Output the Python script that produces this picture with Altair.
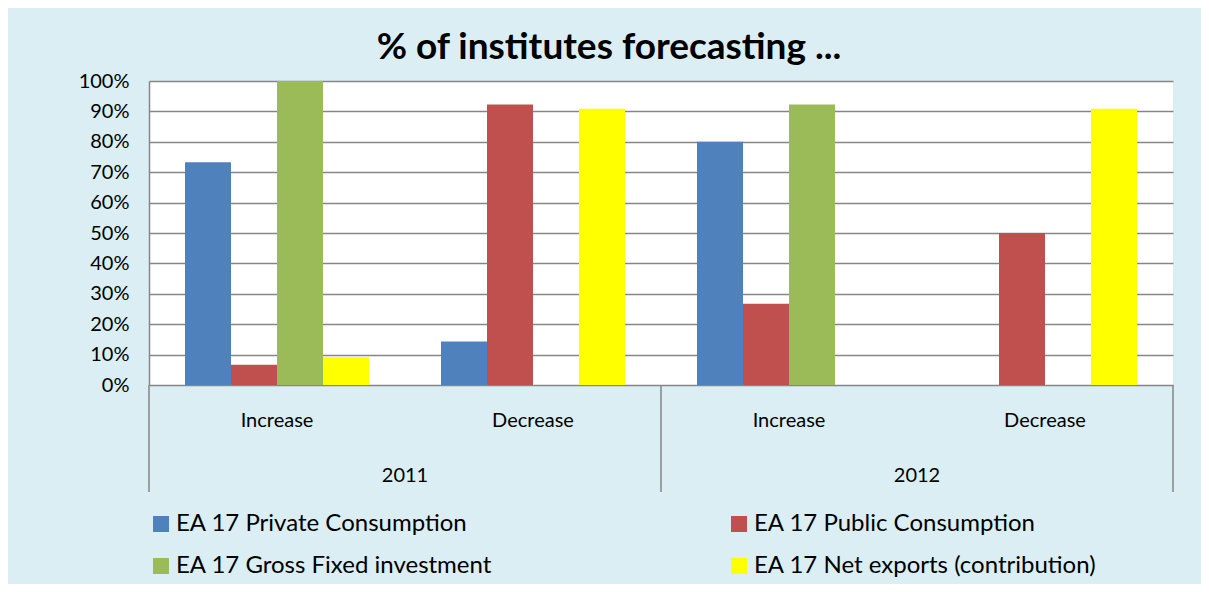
import altair as alt
import pandas as pd

# ---- data ----
series = ["EA 17 Private Consumption", "EA 17 Public Consumption",
          "EA 17 Gross Fixed investment", "EA 17 Net exports (contribution)"]
colors = ["#4F81BD", "#C0504D", "#9BBB59", "#FFFF00"]
years = ["2011", "2011", "2012", "2012"]
directions = ["Increase", "Decrease", "Increase", "Decrease"]
private_consumption = [0.733, 0.143, 0.800, 0.0]
public_consumption = [0.067, 0.923, 0.267, 0.500]
gross_fixed_investment = [1.000, 0.0, 0.923, 0.0]
net_exports = [0.091, 0.909, 0.0, 0.909]
y_ticks = [0.0, 0.1, 0.2, 0.3, 0.4, 0.5, 0.6, 0.7, 0.8, 0.9, 1.0]
year_labels = ["2011", "2012"]
# legend fills column by column: order so rows read Private|Public, Gross|Net
legend_order = [series[0], series[2], series[1], series[3]]

cats = [f"{y} {d}" for y, d in zip(years, directions)]
rows = []
for s, vals in zip(series, [private_consumption, public_consumption,
                            gross_fixed_investment, net_exports]):
    for c, yr, d, v in zip(cats, years, directions, vals):
        rows.append(dict(cat=c, year=yr, direction=d, series=s, value=v))
df = pd.DataFrame(rows)
df_cats = pd.DataFrame(dict(cat=cats, direction=directions))
df_years = pd.DataFrame(dict(year=year_labels))

W, H = 1024, 304
FONT = "Lato"
GRID = "#868686"

x_scale = alt.Scale(domain=cats, paddingInner=0.28125, paddingOuter=0.140625)

bars = alt.Chart(df).mark_bar().encode(
    x=alt.X("cat:N", scale=x_scale, axis=None, sort=cats),
    xOffset=alt.XOffset("series:N", scale=alt.Scale(domain=series, paddingInner=0, paddingOuter=0)),
    y=alt.Y("value:Q", scale=alt.Scale(domain=[0, 1], nice=False),
            axis=alt.Axis(values=y_ticks, format=".0%", title=None, ticks=False,
                          labelFont=FONT, labelFontSize=20, labelColor="black",
                          labelPadding=20, domainColor=GRID, domainWidth=1.5,
                          gridColor=GRID, gridWidth=1.5)),
    color=alt.Color("series:N", scale=alt.Scale(domain=series, range=colors),
                    legend=alt.Legend(title=None, orient="none", legendX=0, legendY=431,
                                      columns=2, gridAlign="all", columnPadding=208,
                                      rowPadding=18, symbolType="square", symbolSize=256,
                                      symbolStrokeWidth=0, labelFont=FONT, labelFontSize=24,
                                      labelColor="black", labelOffset=3, labelLimit=420,
                                      values=legend_order)),
)

dir_text = alt.Chart(df_cats).mark_text(font=FONT, fontSize=20, color="black",
                                        baseline="middle").encode(
    x=alt.X("cat:N", scale=x_scale, axis=None, sort=cats),
    y=alt.value(H + 36),
    text="direction:N",
)

year_text = alt.Chart(df_years).mark_text(font=FONT, fontSize=20, color="black",
                                          baseline="middle").encode(
    x=alt.X("year:N", scale=alt.Scale(domain=year_labels, paddingInner=0, paddingOuter=0),
            axis=None),
    y=alt.value(H + 91),
    text="year:N",
)

sep_src = pd.DataFrame(dict(k=[0]))
seps = [
    alt.Chart(sep_src).mark_rule(color=GRID, strokeWidth=1.5).encode(
        x=alt.value(px), y=alt.value(H), y2=alt.value(H + 107))
    for px in (0, W / 2, W)
]

chart = alt.layer(bars, dir_text, year_text, *seps).resolve_scale(
    x="independent"
).properties(
    width=W, height=H,
    title=alt.TitleParams("% of institutes forecasting ...", font=FONT, fontSize=37,
                          fontWeight="bold", color="black", anchor="middle",
                          dx=-52, dy=46, offset=21, baseline="alphabetic"),
    padding={"left": 141, "top": 73, "right": 28, "bottom": 199},
    autosize=alt.AutoSizeParams(type="none"),
).configure(background="#DAEEF3").configure_view(stroke=None, fill="white")

chart.save("out.html", embed_options={"renderer": "svg", "actions": False})
